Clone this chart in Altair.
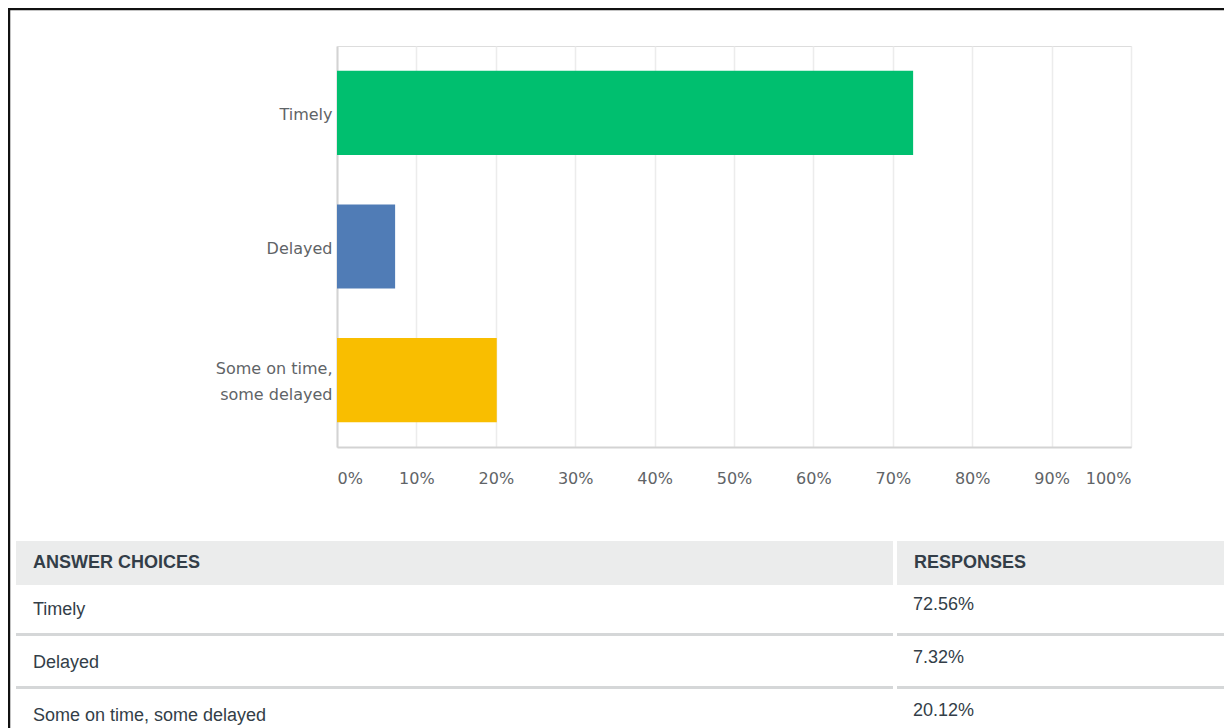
import altair as alt
import pandas as pd

# ---- data ----
categories = ["Timely", "Delayed", "Some on time, some delayed"]
responses = [72.56, 7.32, 20.12]
bar_colors = ["#00BF6F", "#507CB6", "#F9BE00"]
columns = ["ANSWER CHOICES", "RESPONSES"]
x_ticks = [0, 10, 20, 30, 40, 50, 60, 70, 80, 90, 100]

bars_df = pd.DataFrame({"choice": categories, "pct": responses})
rows_domain = ["__header"] + categories
header_df = pd.DataFrame({"col": columns, "row": ["__header"] * len(columns)})
left_df = pd.DataFrame({"col": [columns[0]] * len(categories), "row": categories, "text": categories})
right_df = pd.DataFrame({"col": [columns[1]] * len(categories), "row": categories,
                         "text": [f"{v:.2f}%" for v in responses]})
sep_df = pd.DataFrame([{"col": c, "row": r} for r in categories for c in columns])

W, H = 794, 401
AXIS_GRAY = "#d3d3d3"
LABEL = "#5f6467"
TEXT = "#333e48"

bars = alt.Chart(bars_df).mark_bar().encode(
    x=alt.X("pct:Q", scale=alt.Scale(domain=[0, 100]),
            axis=alt.Axis(values=x_ticks, labelExpr="datum.value + '%'", labelFlush=True,
                          grid=True, gridColor="#ececec", gridWidth=1.5,
                          domainColor=AXIS_GRAY, domainWidth=2, ticks=False,
                          labelPadding=23, labelFont="DejaVu Sans", labelFontSize=16,
                          labelColor=LABEL, title=None)),
    y=alt.Y("choice:N", sort=categories,
            scale=alt.Scale(domain=categories, paddingInner=0.37, paddingOuter=0.185),
            axis=alt.Axis(title=None, ticks=False, domainColor=AXIS_GRAY, domainWidth=2,
                          labelPadding=5, labelLimit=400, labelLineHeight=26,
                          labelOffset={"condition": {"test": "indexof(datum.label, ',') > 0", "value": -11},
                                       "value": 2},
                          labelFont="DejaVu Sans", labelFontSize=16, labelColor=LABEL,
                          labelExpr="split(replace(datum.label, ', ', ',|'), '|')")),
    color=alt.Color("choice:N", scale=alt.Scale(domain=categories, range=bar_colors), legend=None),
)

def tx(bp=None):
    kw = {} if bp is None else {"bandPosition": bp}
    return alt.X("col:N", sort=columns,
                 scale=alt.Scale(domain=columns, range=[-321, 1437], paddingInner=4 / 881, paddingOuter=0),
                 axis=None, **kw)

def ty(bp=None):
    kw = {} if bp is None else {"bandPosition": bp}
    return alt.Y("row:N", sort=rows_domain,
                 scale=alt.Scale(domain=rows_domain, range=[484, 696], paddingInner=0, paddingOuter=0),
                 axis=None, **kw)

header_rect = alt.Chart(header_df).mark_rect(height=44, yOffset=6.5, color="#ebecec").encode(x=tx(), y=ty())
header_text = alt.Chart(header_df).mark_text(
    align="left", dx=17, dy=6.5, font="Liberation Sans", fontWeight="bold", fontSize=18, color=TEXT
).encode(x=tx(0), y=ty(), text="col:N")
seps = alt.Chart(sep_df).mark_rule(strokeWidth=3, color="#d5d7d8", yOffset=-1.5).encode(
    x=tx(0), x2=alt.X2("col:N", bandPosition=1), y=ty(1))
left_text = alt.Chart(left_df).mark_text(
    align="left", dx=17, font="Liberation Sans", fontSize=18, color=TEXT
).encode(x=tx(0), y=ty(), text="text:N")
right_text = alt.Chart(right_df).mark_text(
    align="left", dx=16, dy=-5, font="Liberation Sans", fontSize=18, color=TEXT
).encode(x=tx(0), y=ty(), text="text:N")

table = alt.layer(header_rect, seps, header_text, left_text, right_text)

frame_df = pd.DataFrame({"k": [0]})
frame_top = alt.Chart(frame_df).mark_rule(color="#111111", strokeWidth=2.5).encode(
    x=alt.value(-329), x2=alt.value(900), y=alt.value(-37))
frame_left = alt.Chart(frame_df).mark_rule(color="#111111", strokeWidth=2.5).encode(
    x=alt.value(-328), y=alt.value(-38), y2=alt.value(700))

chart = alt.layer(frame_top, frame_left, bars, table).resolve_scale(
    x="independent", y="independent", color="independent"
).properties(
    width=W, height=H, autosize="none",
    padding={"left": 329, "top": 38, "right": 93, "bottom": 281},
).configure_view(stroke=None).configure(background="white")

chart.save("out.html", embed_options={"renderer": "svg", "actions": False})
